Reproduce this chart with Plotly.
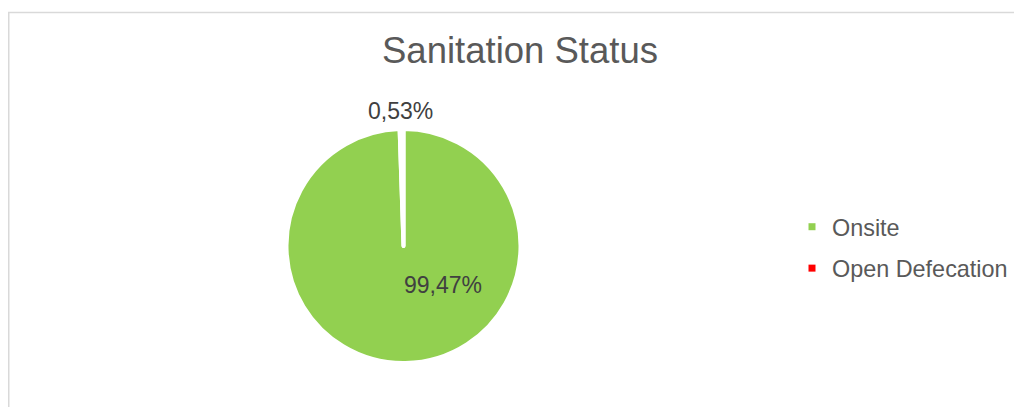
import plotly.graph_objects as go

categories = ["Onsite", "Open Defecation"]
values = [99.47, 0.53]
colors = ["#92D050", "#FF0000"]
title_text = "Sanitation Status"

# page offset from default body margin
OFF = 8
W, H = 1022 - OFF, 407 - OFF

def px(X):
    return (X - OFF) / W

def py(Y):
    return 1 - (Y - OFF) / H

def fmt(v):
    return f"{v:.2f}".replace(".", ",") + "%"

fig = go.Figure()
fig.add_trace(go.Pie(
    labels=categories, values=values, sort=False, direction="clockwise", rotation=0,
    marker=dict(colors=colors, line=dict(color="white", width=4)),
    textinfo="none", hoverinfo="label+percent", showlegend=False,
    domain=dict(x=[px(286.5), px(520.5)], y=[py(363), py(129)]),
))

for name, col in zip(categories, colors):
    fig.add_trace(go.Scatter(
        x=[None], y=[None], mode="markers", name=name, legendgroup=name,
        marker=dict(symbol="square", size=7, color=col),
    ))

label_pos = [(443, 285), (400, 111)]
annotations = []
for v, (lx, ly) in zip(values, label_pos):
    annotations.append(dict(
        x=px(lx), y=py(ly), xref="paper", yref="paper", text=fmt(v),
        showarrow=False, xanchor="center", yanchor="middle",
        font=dict(family="Liberation Sans, Arial", size=23, color="#404040"),
    ))
annotations.append(dict(
    x=px(520), y=py(50.5), xref="paper", yref="paper", text=title_text,
    showarrow=False, xanchor="center", yanchor="middle",
    font=dict(family="Liberation Sans, Arial", size=36.5, color="#595959"),
))

fig.update_layout(
    width=W, height=H,
    margin=dict(l=0, r=0, t=0, b=0),
    paper_bgcolor="white", plot_bgcolor="white",
    xaxis=dict(visible=False), yaxis=dict(visible=False),
    annotations=annotations,
    legend=dict(
        x=px(792), y=py(205), xanchor="left", yanchor="top",
        font=dict(family="Liberation Sans, Arial", size=23.4, color="#595959"),
        tracegroupgap=8, bgcolor="rgba(0,0,0,0)",
    ),
    shapes=[dict(
        type="rect", xref="paper", yref="paper",
        x0=0.75 / W, x1=1.1, y0=-0.1, y1=py(12.5),
        line=dict(color="#D9D9D9", width=1.5), fillcolor="rgba(0,0,0,0)", layer="below",
    )],
)

fig.write_html("out.html")
